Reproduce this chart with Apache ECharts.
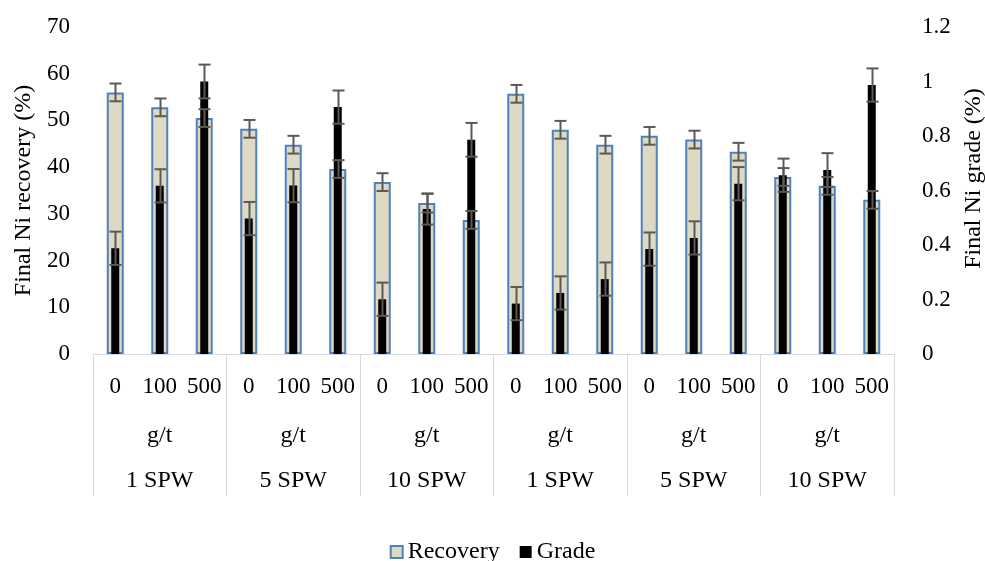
<!DOCTYPE html>
<html>
<head>
<meta charset="utf-8">
<script src="https://cdn.jsdelivr.net/npm/echarts@6/dist/echarts.min.js"></script>
<style>html,body{margin:0;padding:0;background:#fff}#c{width:985px;height:561px}</style>
</head>
<body>
<div id="c"></div>
<script>
const categories = ['0','100','500','0','100','500','0','100','500','0','100','500','0','100','500','0','100','500'];
const groups = ['1 SPW','5 SPW','10 SPW','1 SPW','5 SPW','10 SPW'];
const unitLabel = 'g/t';
const recovery = [56.0, 52.8, 50.5, 48.2, 44.8, 39.6, 36.8, 32.3, 28.7, 55.7, 48.0, 44.8, 46.7, 45.9, 43.3, 37.9, 36.0, 33.0];
const recoveryErr = [1.9, 1.9, 1.9, 1.9, 1.9, 1.9, 1.9, 2.0, 1.9, 1.9, 1.9, 1.9, 1.9, 1.9, 1.9, 1.9, 1.9, 1.9];
const grade = [0.388, 0.617, 1.0, 0.497, 0.618, 0.906, 0.201, 0.532, 0.786, 0.185, 0.224, 0.275, 0.385, 0.426, 0.625, 0.656, 0.675, 0.987];
const gradeErr = [0.061, 0.061, 0.062, 0.061, 0.061, 0.061, 0.061, 0.057, 0.062, 0.061, 0.061, 0.061, 0.061, 0.061, 0.061, 0.061, 0.062, 0.061];
const leftTicks = {min: 0, max: 70, interval: 10};
const rightTicks = {min: 0, max: 1.2, interval: 0.2};

const FONT = 'Liberation Serif';
const chart = echarts.init(document.getElementById('c'), null, {renderer: 'canvas'});

function errRender(params, api) {
  const x = api.value(0);
  const lo = api.coord([x, api.value(1)]);
  const hi = api.coord([x, api.value(2)]);
  const cx = Math.round(lo[0]) + 0.5;
  const half = 6;
  const style = {stroke: '#595959', lineWidth: 2};
  return {
    type: 'group',
    children: [
      {type: 'line', shape: {x1: cx, y1: hi[1], x2: cx, y2: lo[1]}, style: style},
      {type: 'line', shape: {x1: cx - half, y1: hi[1], x2: cx + half, y2: hi[1]}, style: style},
      {type: 'line', shape: {x1: cx - half, y1: lo[1], x2: cx + half, y2: lo[1]}, style: style}
    ]
  };
}

const recErrData = recovery.map((v, i) => [i, v - recoveryErr[i], v + recoveryErr[i]]);
const gradeErrData = grade.map((v, i) => [i, v - gradeErr[i], v + gradeErr[i]]);

const option = {
  animation: false,
  textStyle: {fontFamily: FONT, color: '#000'},
  grid: {left: 93, right: 91, top: 27, bottom: 207, containLabel: false, outerBoundsMode: 'none'},
  legend: {
    data: ['Recovery', 'Grade'],
    top: 535, left: 'center',
    icon: 'rect', itemWidth: 12, itemHeight: 12, itemGap: 20,
    textStyle: {fontFamily: FONT, fontSize: 24, color: '#000'}
  },
  xAxis: [
    {
      type: 'category', data: categories, position: 'bottom',
      axisLine: {show: true, lineStyle: {color: '#D9D9D9', width: 1}},
      axisTick: {show: false},
      axisLabel: {interval: 0, margin: 21, fontFamily: FONT, fontSize: 23, color: '#000'}
    },
    {type: 'category', data: categories, position: 'bottom', show: false},
    {
      type: 'category', data: groups.map((g, i) => String(i)), position: 'bottom',
      axisLine: {show: false},
      axisTick: {show: true, length: 142, interval: 0, lineStyle: {color: '#D9D9D9', width: 1}},
      axisLabel: {
        interval: 0, margin: 59,
        formatter: (v, i) => '{a|' + unitLabel + '}\n{b|' + groups[i] + '}',
        rich: {
          a: {fontFamily: FONT, fontSize: 24, color: '#000', lineHeight: 45},
          b: {fontFamily: FONT, fontSize: 24, color: '#000', lineHeight: 45}
        }
      }
    }
  ],
  yAxis: [
    {
      type: 'value', min: leftTicks.min, max: leftTicks.max, interval: leftTicks.interval,
      name: 'Final Ni recovery (%)', nameLocation: 'middle', nameGap: 50,
      nameTextStyle: {fontFamily: FONT, fontSize: 24, color: '#000'},
      axisLine: {show: false}, axisTick: {show: false}, splitLine: {show: false},
      axisLabel: {margin: 23, fontFamily: FONT, fontSize: 23, color: '#000'}
    },
    {
      type: 'value', min: rightTicks.min, max: rightTicks.max, interval: rightTicks.interval,
      position: 'right',
      name: 'Final Ni grade (%)', nameLocation: 'middle', nameGap: 64, nameRotate: 90,
      nameTextStyle: {fontFamily: FONT, fontSize: 24, color: '#000', padding: [0, 0, 0, 24]},
      axisLine: {show: false}, axisTick: {show: false}, splitLine: {show: false},
      axisLabel: {margin: 28, fontFamily: FONT, fontSize: 23, color: '#000'}
    }
  ],
  series: [
    {
      name: 'Recovery', type: 'bar', xAxisIndex: 0, yAxisIndex: 0,
      data: recovery, barWidth: 17, z: 2,
      itemStyle: {color: '#DDD9C3', borderColor: '#4F81BD', borderWidth: 2}
    },
    {
      name: 'Grade', type: 'bar', xAxisIndex: 1, yAxisIndex: 1,
      data: grade, barWidth: 8, z: 3,
      itemStyle: {color: '#000000'}
    },
    {
      name: 'RecErr', type: 'custom', xAxisIndex: 0, yAxisIndex: 0,
      data: recErrData, renderItem: errRender, z: 4,
      encode: {x: 0, y: [1, 2]}
    },
    {
      name: 'GradeErr', type: 'custom', xAxisIndex: 1, yAxisIndex: 1,
      data: gradeErrData, renderItem: errRender, z: 4,
      encode: {x: 0, y: [1, 2]}
    }
  ]
};
chart.setOption(option);
</script>
</body>
</html>
